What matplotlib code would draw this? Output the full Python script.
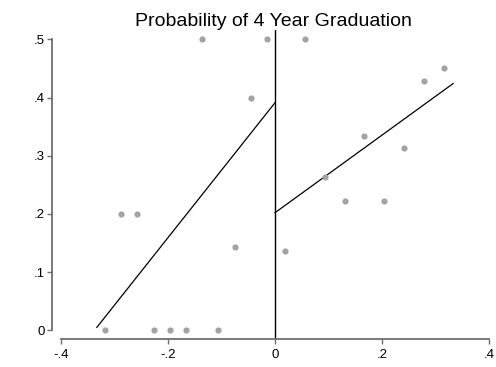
import numpy as np
import matplotlib
matplotlib.use("Agg")
import matplotlib.pyplot as plt

plt.rcParams['font.family'] = ['Liberation Sans', 'DejaVu Sans']

# datos
izq_x = [-0.318, -0.288, -0.258, -0.227, -0.197, -0.166, -0.136, -0.106, -0.075, -0.045, -0.015]
izq_y = [0, 0.2, 0.2, 0, 0, 0, 0.5, 0, 0.143, 0.4, 0.5]
der_x = [0.019, 0.056, 0.093, 0.130, 0.167, 0.204, 0.241, 0.279, 0.315]
der_y = [0.136, 0.5, 0.263, 0.222, 0.333, 0.222, 0.313, 0.429, 0.45]

# rectas ajustadas (extremos)
ajuste_izq_x = [-0.333, 0.0]
ajuste_izq_y = [0.005, 0.391]
ajuste_der_x = [0.0, 0.333]
ajuste_der_y = [0.202, 0.424]

xticks = [-0.4, -0.2, 0, 0.2, 0.4]
xtick_labels = ['-.4', '-.2', '0', '.2', '.4']
yticks = [0, 0.1, 0.2, 0.3, 0.4, 0.5]
ytick_labels = ['0', '.1', '.2', '.3', '.4', '.5']

W, H = 496, 367
fig = plt.figure(figsize=(W / 100, H / 100), dpi=100)

# posicion de los ejes en pixeles
x0, x1 = -0.4168, 0.41
y0, y1 = -0.0155, 0.516
izq_px, arriba_px, abajo_px = 52, 30, 339.3
ancho_px = (x1 - x0) * 535
ax = fig.add_axes([izq_px / W, (H - abajo_px) / H, ancho_px / W, (abajo_px - arriba_px) / H])
ax.set_xlim(x0, x1)
ax.set_ylim(y0, y1)

gris = '#a3a3a3'
ax.scatter(izq_x, izq_y, s=20, color=gris, linewidths=0, zorder=3)
ax.scatter(der_x, der_y, s=20, color=gris, linewidths=0, zorder=3)
ax.plot(ajuste_izq_x, ajuste_izq_y, color='black', lw=0.9)
ax.plot(ajuste_der_x, ajuste_der_y, color='black', lw=0.9)
ax.axvline(0, color='black', lw=1.0)

# ejes estilo Stata
for lado in ['top', 'right']:
    ax.spines[lado].set_visible(False)
col_eje = '#6e6e6e'
ax.spines['left'].set_bounds(0, 0.5)
ax.spines['bottom'].set_bounds(-0.4, 0.4)
for lado in ['left', 'bottom']:
    ax.spines[lado].set_color(col_eje)
    ax.spines[lado].set_linewidth(1.3)

ax.set_xticks(xticks)
ax.set_xticklabels(xtick_labels)
ax.set_yticks(yticks)
ax.set_yticklabels(ytick_labels)
ax.tick_params(axis='both', colors=col_eje, labelcolor='black', labelsize=9.5,
               length=3.5, width=1.0)
ax.tick_params(axis='x', pad=3.5)
ax.tick_params(axis='y', pad=1.5)

ax.set_title('Probability of 4 Year Graduation', fontsize=14, pad=3)

fig.savefig('out.png', dpi=100)
